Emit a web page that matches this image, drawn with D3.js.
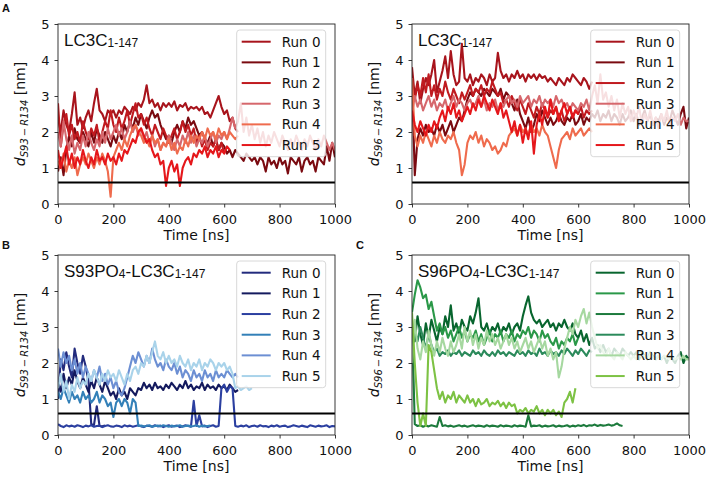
<!DOCTYPE html>
<html><head><meta charset="utf-8">
<script src="https://cdn.jsdelivr.net/npm/d3@7/dist/d3.min.js"></script>
<style>body{margin:0;background:#fff}</style></head>
<body><svg id="c" width="708" height="479"></svg>
<script>
const STEP = 10; // ns between samples
const xTicks = [0,200,400,600,800,1000];
const yTicks = [0,1,2,3,4,5];
const runLabels = ["Run 0","Run 1","Run 2","Run 3","Run 4","Run 5"];
const threshold = 0.6;
const redColors = ["#a8141c","#7a0a10","#c01a1f","#d6676c","#ef6b4d","#e5171b"];
const blueColors = ["#232b7d","#141a5e","#2b3fa0","#3380b8","#6c8fd3","#a9d3ea"];
const greenColors = ["#08652e","#2a9848","#1c7a3c","#2b8a5b","#a6d8a0","#7dc244"];

// Panel A: S93–R134, LC3C 1-147
const a_run0 = [2.4,2.0,2.6,2.2,2.0,2.5,3.1,2.2,2.4,2.1,2.4,2.6,2.3,2.8,3.2,2.6,2.5,2.3,2.6,2.5,2.6,2.4,2.6,2.5,2.7,2.6,2.5,2.7,2.6,2.8,2.7,2.9,3.3,2.8,2.9,2.7,2.8,2.6,2.8,2.7,2.8,2.7,2.85,2.6,2.75,2.7,2.8,2.6,2.7,2.65,2.7,2.6,2.7,2.5,2.55,2.4,2.6,2.8,3.0,2.7,2.5,2.6,2.3,2.4,2.1,2.0];
const a_run1 = [0.9,1.3,0.8,1.5,1.9,1.6,2.1,1.8,1.7,2.0,1.8,1.6,2.0,1.7,2.1,1.9,1.7,2.0,1.8,1.6,1.9,1.7,2.0,1.8,2.2,2.0,2.3,2.1,2.4,2.2,2.5,2.3,2.1,2.4,2.6,2.4,2.5,2.2,2.0,1.8,1.9,1.7,2.0,2.2,2.0,2.3,2.1,2.4,2.2,2.3,2.1,1.9,2.0,1.8,1.7,1.9,1.6,1.8,1.5,1.7,1.6,1.4,1.5,1.3,1.5,1.4,1.3,1.2,1.4,1.3,1.2,1.3,1.1,1.3,1.2,0.9,1.3,1.1,1.2,1.0,1.3,1.1,1.2,0.85,1.3,1.2,1.1,1.3,0.9,1.2,1.3,1.1,1.2,0.9,1.3,1.2,1.1,1.6,1.2,1.7,1.3];
const a_run2 = [2.8,1.6,2.2,2.5,1.9,2.2,1.8,2.0,1.7,2.3,2.0,1.8,2.1,1.9,2.2,1.7,2.0,2.3,2.1,2.6,2.2,2.0,2.4,2.1,2.3,2.6,2.2,2.5,2.8,2.4,2.5,2.2,2.4,2.1,1.9,2.2,2.0,1.8,2.1,1.9,1.7,1.9,2.1,1.8,2.0,2.3,2.0,2.2,1.9,2.1,1.7,1.9,1.6,1.8,1.5,1.7,1.6,1.8,1.5,1.7,1.4];
const a_run3 = [2.0,1.6,2.3,1.8,1.5,1.9,1.4,1.7,1.5,1.9,1.6,2.0,1.7,1.5,1.8,1.6,2.0,1.7,2.1,1.8,2.0,2.2,1.9,2.1,1.8,2.0,2.3,2.0,2.2,1.9,2.1,1.8,2.0,1.7,1.9,1.6,1.8,1.5,1.7,1.6,1.9,1.7,1.5,1.8,1.6,1.9,1.7,2.0,1.7,1.9,1.6,1.8,1.7,1.9,1.6,1.8,2.0,1.7,1.9,1.8,2.0,1.8,2.1,2.4,2.1,2.3,2.8,2.0,2.4,1.9,2.2,1.8,2.1,1.7,2.0,1.6,1.9,1.7,2.0,1.8,1.6,1.9,1.7,1.5,1.8,1.6,1.9,1.7,1.5,1.8,1.6,1.9,1.7,1.5,1.8,1.6,1.9,1.7,1.5,1.7,1.5];
const a_run4 = [1.2,1.0,1.4,0.9,1.2,1.0,1.3,0.8,1.1,1.3,1.1,1.4,1.2,1.0,1.3,1.1,1.4,1.2,0.9,0.2,1.3,1.5,1.7,1.5,1.8,1.6,1.9,2.1,2.2,2.0,1.9,1.7,1.8,1.6,1.9,1.7,1.8,1.5,1.7,1.6,1.8,1.5,1.7,1.4,1.6,1.5,1.8,1.6,1.9,1.7,1.9,1.8,2.0,1.8,2.1,1.9,2.0,1.8,2.1,1.9,2.0,1.8,2.0,1.9,1.8,1.9];
const a_run5 = [1.5,1.0,1.3,1.6,1.1,1.4,1.0,1.3,1.1,1.5,1.2,1.0,1.3,1.1,1.5,1.2,1.3,1.1,1.4,1.2,1.3,1.1,1.4,1.2,1.5,1.4,1.6,1.8,1.7,2.0,2.1,1.9,1.7,1.8,1.5,1.3,1.4,1.1,1.2,0.5,1.0,1.2,0.9,1.1,0.5,1.0,1.2,1.3,1.1,1.4,1.3,1.5,1.4,1.6,1.3,1.5,1.4,1.6,1.3,1.5,1.4,1.6,1.5];

// Panel top right: S96–R134, LC3C 1-147
const r_run0 = [3.8,3.0,3.4,2.8,3.2,3.5,3.3,3.6,4.0,3.1,3.4,3.7,4.1,3.5,4.25,3.6,3.3,3.4,4.45,3.5,3.4,3.6,3.3,3.5,3.4,3.6,3.5,3.3,3.6,3.4,3.5,4.2,3.7,3.5,3.6,3.4,3.6,3.5,3.7,3.5,3.6,3.4,3.6,3.5,3.6,3.45,3.6,3.5,3.55,3.4,3.5,3.4,3.3,3.5,3.4,3.3,3.5,3.4,3.6,3.5,3.4,3.3,3.5,3.4,3.2,3.4];
const r_run1 = [3.5,0.8,1.8,2.1,1.9,2.2,2.0,2.1,1.9,2.2,2.0,2.2,1.9,2.1,2.3,2.0,2.2,2.4,2.3,2.6,2.9,3.1,3.0,3.2,3.1,3.0,3.2,3.1,3.0,3.2,3.1,3.0,3.2,2.9,3.1,3.0,2.8,2.6,2.9,2.5,2.3,2.1,2.4,2.0,2.2,2.5,2.3,2.6,2.4,2.2,2.4,2.2,2.3,2.5,2.3,2.2,2.4,2.3,2.5,2.2,2.3,2.5,2.2,2.4,2.3,2.5,2.4,2.6,2.3,2.5,2.4,2.6,2.3,2.5,2.4,2.2,2.5,2.3,2.4,2.6,2.3,2.5,2.2,2.4,2.6,2.3,2.5,2.2,2.4,2.3,2.5,2.2,2.4,2.3,2.6,2.4,2.2,2.5,2.7,2.1,2.4];
const r_run2 = [3.2,2.9,3.3,3.0,3.5,3.1,3.6,3.0,3.3,2.9,3.2,3.0,3.4,3.1,2.9,3.2,3.0,2.8,3.1,2.9,3.1,3.3,3.0,3.2,3.1,3.3,3.0,3.2,3.1,3.4,3.2,3.0,3.1,2.8,2.9,2.7,3.0,2.8,2.6,2.9,2.7,2.5,2.8,2.6,2.4,2.7,2.5,2.8,2.6,2.4,2.6,2.5,2.7,2.4,2.6,2.3,2.5,2.7,2.4,2.6,2.5,2.7,2.4,2.6,2.5,2.6];
const r_run3 = [2.5,3.0,2.7,2.9,2.6,2.8,3.0,2.7,2.9,2.6,2.8,2.7,2.9,2.6,2.8,3.0,2.7,2.9,2.8,2.6,2.8,2.9,2.7,2.8,3.0,2.7,2.9,2.6,2.8,2.7,2.9,2.6,2.8,2.7,2.9,3.0,2.8,2.9,2.7,3.0,2.8,2.9,3.0,2.7,2.9,2.8,3.0,2.7,2.9,2.8,2.9,2.7,3.0,2.8,2.9,2.7,2.8,2.6,2.8,2.7,2.6,2.8,2.7,2.9,2.6,3.0,3.3,2.8,3.6,2.9,3.1,2.7,3.0,2.6,2.9,2.4,2.8,2.5,2.7,2.3,2.6,2.4,2.7,2.2,2.5,2.3,2.6,2.2,2.4,2.1,2.5,2.3,2.6,2.2,2.4,2.3,2.5,2.2,2.4,2.3,2.3];
const r_run4 = [3.5,1.9,1.6,1.9,1.7,2.0,1.8,1.6,1.9,1.7,2.0,1.8,1.7,1.9,1.8,2.0,1.7,1.5,0.8,1.1,1.7,1.9,1.8,2.0,1.7,1.9,1.6,1.8,1.7,1.5,1.6,1.4,1.5,1.7,1.6,1.9,2.0,2.1,1.9,2.2,2.0,2.1,1.9,2.2,2.0,2.1,1.9,2.2,2.0,1.9,1.6,1.3,1.0,1.5,1.8,1.9,2.0,1.8,2.1,1.9,2.0,2.1,1.9,2.0,2.1,2.0];
const r_run5 = [2.6,2.2,2.0,2.3,2.1,1.9,2.2,2.0,2.3,2.1,2.4,2.6,2.3,2.7,2.5,2.8,2.4,2.6,2.3,2.5,2.7,2.5,2.8,2.6,2.9,2.7,3.0,2.8,2.6,2.9,2.7,2.5,2.8,2.4,2.6,2.3,2.0,2.3,1.9,2.2,1.7,2.1,1.8,2.3,1.4,2.2,2.5,2.2,2.7,2.4,2.9,2.5,2.7,2.3,2.6,2.8,2.5,2.7,2.4,2.6,2.5];

// Panel B: S93–R134, S93PO4-LC3C 1-147
const b_run0 = [1.0,2.1,1.8,2.3,1.9,1.6,2.4,2.0,1.7,2.2,1.9,1.5,0.3,0.28,0.8,0.25,0.24,0.26];
const b_run1 = [1.5,1.2,1.7,1.3,1.6,1.4,1.8,1.5,1.3,1.6,1.4,1.2,1.5,1.3,1.6,1.4,1.2,1.5,1.3,1.1,1.2,1.0,1.3,1.1,1.2,1.0,1.3,1.2,1.1,1.3,1.25,1.45,1.3,1.4,1.25,1.45,1.3,1.35,1.25,1.4,1.3,1.45,1.35,1.25,1.4,1.3,1.5,1.3,1.4,1.25,1.35,1.3,1.45,1.25,1.4,1.3,1.35,1.25,1.4,1.3,1.35,1.25,1.4,1.3,1.2,1.25];
const b_run2 = [0.3,0.25,0.22,0.27,0.24,0.26,0.23,0.27,0.25,0.22,0.26,0.24,0.27,0.23,0.25,0.26,0.22,0.25,0.27,0.24,0.23,0.26,0.25,0.22,0.27,0.24,0.26,0.23,0.25,0.27,0.24,0.22,0.26,0.25,0.23,0.27,0.24,0.26,0.22,0.25,0.27,0.23,0.25,0.26,0.22,0.24,0.27,0.25,0.23,0.95,0.25,0.55,0.24,0.26,0.22,0.25,0.27,0.23,0.25,1.3,1.4,1.2,1.35,1.3,0.25,0.23,0.26,0.24,0.27,0.22,0.25,0.26,0.23,0.27,0.24,0.25,0.22,0.26,0.24,0.27,0.23,0.25,0.26,0.22,0.24,0.27,0.25,0.23,0.26,0.24,0.22,0.27,0.25,0.23,0.26,0.24,0.25,0.27,0.22,0.25,0.24];
const b_run3 = [1.2,1.0,1.3,1.1,0.9,1.2,1.0,1.1,0.9,1.2,1.0,1.1,0.9,1.0,1.2,0.9,1.1,1.0,0.8,0.9,0.5,0.9,1.0,0.8,1.0,0.9,0.6,1.0,0.9,0.25,0.26,0.24,0.25,0.27,0.23,0.25,0.26,0.24,0.27,0.25,0.23,0.26,0.24,0.25,0.27,0.23,0.25,0.26,0.24,0.25,0.27,0.23,0.26,0.24,0.25,0.26];
const b_run4 = [2.4,1.9,2.3,2.0,2.2,1.8,2.1,1.7,2.0,1.6,1.9,1.7,1.5,1.8,1.6,1.9,1.5,1.7,1.4,1.6,1.3,1.5,1.2,1.1,1.3,1.6,1.9,2.2,2.0,2.3,2.1,1.9,2.2,2.0,2.4,2.1,1.9,2.0,1.8,2.1,1.9,1.8,2.0,1.7,1.9,1.6,1.8,1.7,1.5,1.8,1.6,1.7,1.5,1.8,1.6,1.7,1.5,1.8,1.6,1.7,1.6,1.8,1.7,1.6,1.7,1.6];
const b_run5 = [1.3,1.7,1.2,1.5,1.0,1.4,1.2,1.6,1.3,1.5,1.4,1.7,1.5,1.8,1.6,1.4,1.7,1.5,1.8,1.6,1.7,1.5,1.8,1.6,1.4,1.7,1.5,1.8,1.9,1.7,2.0,1.9,2.2,2.0,2.3,2.6,2.2,2.1,2.3,2.0,2.2,2.0,2.1,1.9,2.2,2.0,1.9,2.1,1.8,2.0,1.9,2.1,1.8,2.0,1.9,2.1,2.0,1.8,2.0,1.9,2.0,1.8,1.9,1.7,1.3,1.35,1.25,1.3,1.35,1.25,1.3];

// Panel C: S96–R134, S96PO4-LC3C 1-147
const c_run0 = [3.0,2.6,3.3,2.8,2.5,3.1,2.7,3.2,2.9,2.6,3.0,2.8,3.3,3.0,3.6,2.9,3.1,2.8,3.2,3.0,2.9,3.3,3.1,3.4,3.8,3.0,2.9,3.1,2.8,3.0,2.9,3.1,2.8,3.0,2.9,3.1,2.8,3.0,3.1,2.9,3.3,3.6,3.85,3.4,3.2,3.1,3.2,3.0,3.1,3.2,3.0,3.1,2.9,3.1,3.0,3.2,3.0,2.9,3.1,2.8,2.7,2.9,2.6,2.8,2.5,2.7,2.4,2.5,2.3,2.5,2.3,2.4,2.2,2.4,2.3,2.2,2.4,2.3,2.2,2.3,2.2,2.3,2.1,2.3,2.2,2.1,2.3,2.2,2.1,2.2,2.1,2.2,2.0,2.2,2.1,2.0,2.2,2.3,2.0,2.2,2.1];
const c_run1 = [3.4,3.9,4.3,4.1,3.8,3.9,3.5,3.7,3.3,2.9,3.1,2.8,3.0,2.7,2.9,2.6,2.8,3.0,2.7,2.9,2.6,2.8,2.7,2.9,2.6,2.8,2.5,2.7,2.9,2.6,2.8,2.7,2.9,2.6,2.8,2.7,2.9,2.6,2.8,2.7,2.9,2.8,3.0,2.7,2.9,2.8,2.6,2.9,2.7,2.8,2.6,2.5,2.7,2.4,2.6,2.5,2.7,2.6,2.8,2.5,2.7];
const c_run2 = [3.2,0.3,0.25,0.27,0.23,0.26,0.24,0.27,0.25,0.23,0.5,0.25,0.27,0.24,0.26,0.23,0.25,0.27,0.24,0.26,0.23,0.25,0.27,0.24,0.26,0.25,0.23,0.27,0.24,0.26,0.25,0.23,0.27,0.24,0.26,0.25,0.23,0.27,0.24,0.26,0.25,0.23,0.55,0.24,0.26,0.25,0.27,0.23,0.26,0.24,0.25,0.27,0.23,0.26,0.24,0.25,0.27,0.23,0.26,0.24,0.27,0.25,0.28,0.24,0.27,0.26,0.29,0.25,0.28,0.26,0.27,0.29,0.26,0.28,0.32,0.27,0.25];
const c_run3 = [2.5,2.9,2.6,3.0,2.7,2.4,2.8,2.5,2.3,2.4,2.2,2.3,2.25,2.35,2.2,2.3,2.25,2.35,2.2,2.3,2.25,2.2,2.35,2.25,2.3,2.2,2.35,2.25,2.2,2.3,2.2,2.35,2.25,2.3,2.2,2.3,2.25,2.2,2.35,2.25,2.3,2.2,2.35,2.25,2.3,2.2,2.4,2.25,2.3,2.2,2.35,2.25,2.3,2.2,2.35,2.25,2.4,2.3,2.2,2.35,2.25,2.4,2.3,2.2,2.35,2.3];
const c_run4 = [2.0,3.2,2.4,2.1,2.6,2.3,2.9,2.5,2.2,2.6,2.3,2.7,2.4,2.2,2.6,2.3,2.5,2.8,2.4,3.0,2.6,2.9,2.5,2.8,2.4,2.7,2.5,2.9,2.6,2.8,2.5,2.7,2.4,2.6,2.8,2.5,2.7,2.4,2.6,2.3,2.5,2.7,2.4,2.6,2.3,2.5,2.7,2.4,2.6,2.2,2.4,2.1,2.3,1.6,1.9,2.4,2.7,3.0,2.8,3.2,3.0,3.3,3.5,3.1,3.4,3.0,2.7,2.4,2.5,2.3,2.2,2.4,2.2,2.1,2.3,2.2,2.1,2.3,2.2,2.1,2.2,2.1,2.3,2.15,2.2,2.1,2.25,2.15,2.1,2.2,2.1,2.2,2.15,2.1,2.2,2.1,2.15,2.1,2.2,2.1,2.1];
const c_run5 = [3.4,2.0,0.9,0.25,0.6,0.25,2.5,2.3,1.8,1.3,1.0,1.2,0.9,1.1,1.0,1.2,0.9,1.1,1.0,0.9,1.1,0.9,1.0,0.8,1.0,0.85,0.9,1.0,0.8,0.9,0.85,0.95,0.8,0.9,0.75,0.9,0.8,0.85,0.6,0.7,0.65,0.75,0.6,0.7,0.65,0.8,0.6,0.7,0.55,0.7,0.6,0.7,0.55,0.65,0.5,0.9,1.0,1.2,0.9,1.3];

const panels = [
  {letter:"A", lx:2, ly:12, left:58, top:24, site:"S93", title:[["LC3C",0],["1-147",1]], colors:redColors,
   runs:[a_run0,a_run1,a_run2,a_run3,a_run4,a_run5]},
  {letter:"", lx:0, ly:0, left:412, top:24, site:"S96", title:[["LC3C",0],["1-147",1]], colors:redColors,
   runs:[r_run0,r_run1,r_run2,r_run3,r_run4,r_run5]},
  {letter:"B", lx:2, ly:249, left:58, top:255, site:"S93", title:[["S93PO",0],["4",1],["-LC3C",0],["1-147",1]], colors:blueColors,
   runs:[b_run0,b_run1,b_run2,b_run3,b_run4,b_run5]},
  {letter:"C", lx:356, ly:249, left:412, top:255, site:"S96", title:[["S96PO",0],["4",1],["-LC3C",0],["1-147",1]], colors:greenColors,
   runs:[c_run0,c_run1,c_run2,c_run3,c_run4,c_run5]}
];

const W = 277, H = 180;
const svg = d3.select("#c");
const DV = "'DejaVu Sans', sans-serif";
const AR = "'Liberation Sans', Arial, sans-serif";

panels.forEach((p, pi) => {
  const x = d3.scaleLinear().domain([0,1000]).range([0,W]);
  const y = d3.scaleLinear().domain([0,5]).range([H,0]);
  const g = svg.append("g").attr("transform", `translate(${p.left},${p.top})`);
  const cid = "clip" + pi;
  g.append("clipPath").attr("id", cid).append("rect").attr("width", W).attr("height", H);

  const line = d3.line().x(d => x(d.t)).y(d => y(d.v));
  const lg = g.append("g").attr("clip-path", `url(#${cid})`);
  p.runs.forEach((vals, k) => {
    const pts = vals.map((v, i) => ({t: i*STEP, v}));
    lg.append("path").datum(pts).attr("d", line)
      .attr("fill","none").attr("stroke", p.colors[k]).attr("stroke-width",2.1)
      .attr("stroke-linejoin","round");
  });
  // threshold line
  g.append("line").attr("x1",0).attr("x2",W).attr("y1",y(threshold)).attr("y2",y(threshold))
    .attr("stroke","#000").attr("stroke-width",2);

  // axes
  const xa = g.append("g").attr("transform",`translate(0,${H})`)
    .call(d3.axisBottom(x).tickValues(xTicks).tickSize(3.5).tickPadding(5).tickFormat(d3.format("d")));
  const ya = g.append("g")
    .call(d3.axisLeft(y).tickValues(yTicks).tickSize(3.5).tickPadding(5).tickFormat(d3.format("d")));
  [xa, ya].forEach(a => {
    a.select(".domain").remove();
    a.selectAll("line").attr("stroke","#222").attr("stroke-width",0.9);
    a.selectAll("text").attr("font-family",DV).attr("font-size",13).attr("fill","#111");
  });
  xa.selectAll("text").attr("dy","0.9em");
  g.append("rect").attr("width",W).attr("height",H).attr("fill","none")
    .attr("stroke","#222").attr("stroke-width",0.9);

  // title
  const tt = g.append("text").attr("x",6).attr("y",22).attr("font-family",AR).attr("font-size",17).attr("fill","#111");
  let sub = false;
  p.title.forEach(([s, isSub]) => {
    const ts = tt.append("tspan").text(s);
    if (isSub && !sub) { ts.attr("font-size",12).attr("dy",1); sub = true; }
    else if (isSub) { ts.attr("font-size",12); }
    else if (sub) { ts.attr("dy",-1); sub = false; }
  });

  // legend
  const lgX = 178.7, lgY = 6, lgW = 89, lgH = 126.7;
  const leg = g.append("g").attr("transform",`translate(${lgX},${lgY})`);
  leg.append("rect").attr("width",lgW).attr("height",lgH).attr("rx",3)
    .attr("fill","#fff").attr("fill-opacity",0.8).attr("stroke","#d4d4d4").attr("stroke-width",0.9);
  runLabels.forEach((lab, k) => {
    const yy = 11.7 + k*20.67;
    leg.append("line").attr("x1",5).attr("x2",34).attr("y1",yy).attr("y2",yy)
      .attr("stroke",p.colors[k]).attr("stroke-width",2);
    leg.append("text").attr("x",45).attr("y",yy).attr("dy","0.36em")
      .attr("font-family",DV).attr("font-size",13.5).attr("fill","#111").text(lab);
  });

  // axis labels
  g.append("text").attr("x",W/2).attr("y",H+35.5).attr("text-anchor","middle")
    .attr("font-family",DV).attr("font-size",14).attr("fill","#111").text("Time [ns]");
  const yl = g.append("text").attr("transform",`translate(${-33},${H/2}) rotate(-90)`)
    .attr("text-anchor","middle").attr("font-family",DV).attr("font-size",14).attr("fill","#111");
  yl.append("tspan").attr("font-style","italic").text("d");
  yl.append("tspan").attr("font-style","italic").attr("font-size",10).attr("dy",3)
    .text(p.site + "\u2009\u2212\u2009R134");
  yl.append("tspan").attr("dy",-3).text(" [nm]");

  if (p.letter) {
    svg.append("text").attr("x",p.lx).attr("y",p.ly).attr("font-family",AR).attr("font-weight","bold")
      .attr("font-size",11).attr("fill","#111").text(p.letter);
  }
});
</script>
</body></html>
